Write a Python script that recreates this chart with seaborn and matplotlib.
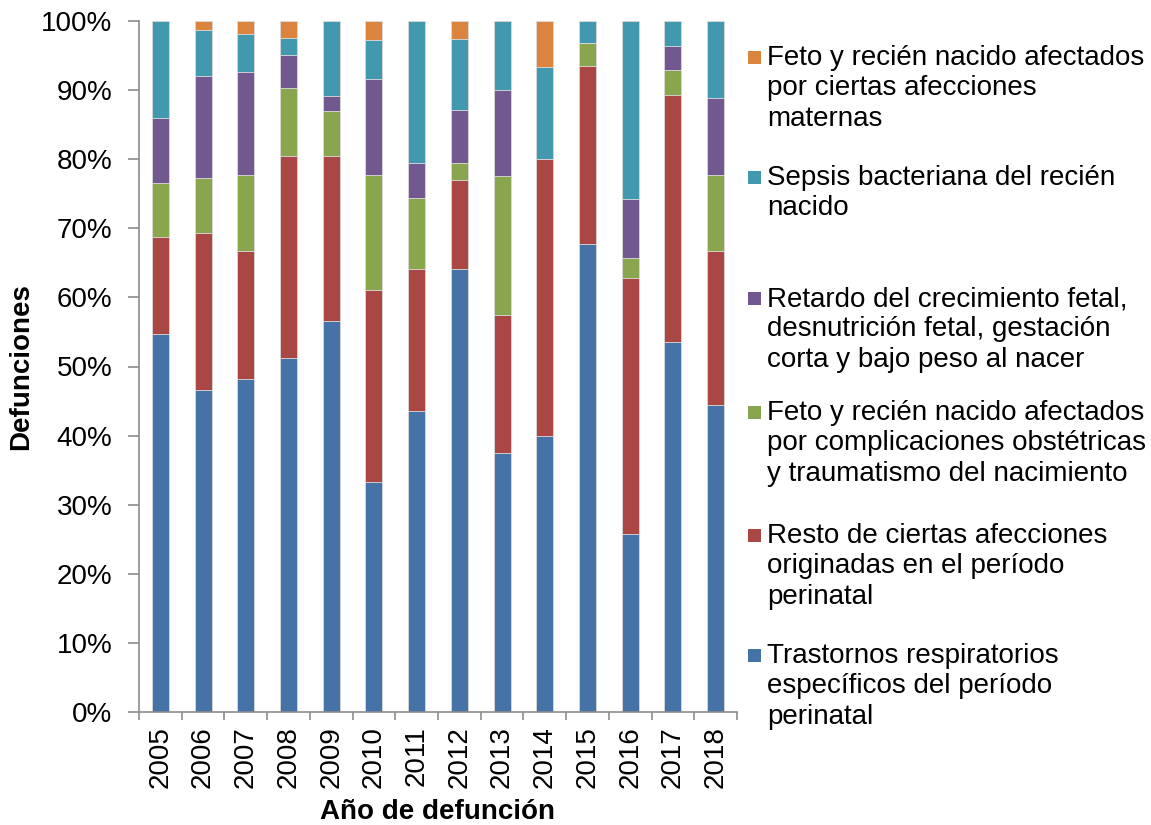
import matplotlib
matplotlib.use("Agg")
import matplotlib.pyplot as plt
import seaborn as sns
import numpy as np
from matplotlib.patches import Rectangle
from matplotlib.ticker import FixedLocator, FuncFormatter

years = ["2005", "2006", "2007", "2008", "2009", "2010", "2011",
         "2012", "2013", "2014", "2015", "2016", "2017", "2018"]

# Percent of deaths per year (stack order bottom -> top)
trastornos = [54.69, 46.67, 48.15, 51.22, 56.52, 33.33, 43.59, 64.10, 37.50, 40.00, 67.74, 25.71, 53.57, 44.44]
resto      = [14.06, 22.67, 18.52, 29.27, 23.91, 27.78, 20.51, 12.82, 20.00, 40.00, 25.81, 37.14, 35.71, 22.22]
complic    = [7.81, 8.00, 11.11, 9.76, 6.52, 16.67, 10.26, 2.56, 20.00, 0.00, 3.23, 2.86, 3.57, 11.11]
retardo    = [9.38, 14.67, 14.81, 4.88, 2.17, 13.89, 5.13, 7.69, 12.50, 0.00, 0.00, 8.57, 3.57, 11.11]
sepsis     = [14.06, 6.67, 5.56, 2.44, 10.87, 5.56, 20.51, 10.26, 10.00, 13.33, 3.23, 25.71, 3.57, 11.11]
maternas   = [0.00, 1.33, 1.85, 2.44, 0.00, 2.78, 0.00, 2.56, 0.00, 6.67, 0.00, 0.00, 0.00, 0.00]

series = [trastornos, resto, complic, retardo, sepsis, maternas]
labels = [
    "Trastornos respiratorios\nespecíficos del período\nperinatal",
    "Resto de ciertas afecciones\noriginadas en el período\nperinatal",
    "Feto y recién nacido afectados\npor complicaciones obstétricas\ny traumatismo del nacimiento",
    "Retardo del crecimiento fetal,\ndesnutrición fetal, gestación\ncorta y bajo peso al nacer",
    "Sepsis bacteriana del recién\nnacido",
    "Feto y recién nacido afectados\npor ciertas afecciones\nmaternas",
]
colors = ["#4572A7", "#AA4643", "#89A54E", "#71588F", "#4198AF", "#DB843D"]

sns.set_style("white")
plt.rcParams["font.family"] = ["Liberation Sans", "DejaVu Sans"]
plt.rcParams["text.color"] = "black"
plt.rcParams["axes.labelcolor"] = "black"
plt.rcParams["xtick.labelcolor"] = "black"
plt.rcParams["ytick.labelcolor"] = "black"

FS = 20
W, H = 1151, 825
fig = plt.figure(figsize=(W / 100, H / 100), dpi=100)
ax = fig.add_axes([139 / W, 1 - 712 / H, (737 - 139) / W, (712 - 21) / H])

cum = np.cumsum(np.array(series), axis=0)
# draw from top of stack down so lower segments overlay upper totals
for i in range(len(series) - 1, -1, -1):
    sns.barplot(x=years, y=np.minimum(cum[i], 100), order=years, color=colors[i],
                width=0.4, ax=ax, edgecolor="#dddddd", linewidth=0.6,
                saturation=1)

ax.set_xlim(-0.5, len(years) - 0.5)
ax.set_ylim(0, 100)
ax.yaxis.set_major_locator(FixedLocator(np.arange(0, 101, 10)))
ax.yaxis.set_major_formatter(FuncFormatter(lambda v, p: f"{int(round(v))}%"))

for s in ["top", "right"]:
    ax.spines[s].set_visible(False)
for s in ["left", "bottom"]:
    ax.spines[s].set_color("#8c8c8c")
    ax.spines[s].set_linewidth(1.2)

ax.tick_params(axis="y", which="major", direction="out", length=8, width=1.2,
               color="#8c8c8c", labelsize=FS, pad=11, left=True)
ax.set_xticks(range(len(years)))
ax.set_xticklabels(years, rotation=90, fontsize=FS)
ax.tick_params(axis="x", which="major", length=0, pad=10)
ax.set_xticks(np.arange(-0.5, len(years), 1.0), minor=True)
ax.tick_params(axis="x", which="minor", direction="out", length=6, width=1.2,
               color="#8c8c8c", bottom=True)

ax.set_xlabel("Año de defunción", fontsize=FS, fontweight="bold", labelpad=8)
ax.set_ylabel("Defunciones", fontsize=FS, fontweight="bold", labelpad=5)

# Legend (Excel-like, top to bottom: last series first)
first_line_y = [57, 177, 298, 412, 535, 655]
for k, idx in enumerate(range(len(series) - 1, -1, -1)):
    yc = first_line_y[k]
    fig.patches.append(Rectangle((748 / W, 1 - (yc + 6.5) / H), 13 / W, 13 / H,
                                 transform=fig.transFigure, facecolor=colors[idx],
                                 edgecolor="none"))
    fig.text(767 / W, 1 - (yc - 12) / H, labels[idx], fontsize=FS, va="top",
             ha="left", linespacing=1.22, color="black")

fig.savefig("out.png", dpi=100)
